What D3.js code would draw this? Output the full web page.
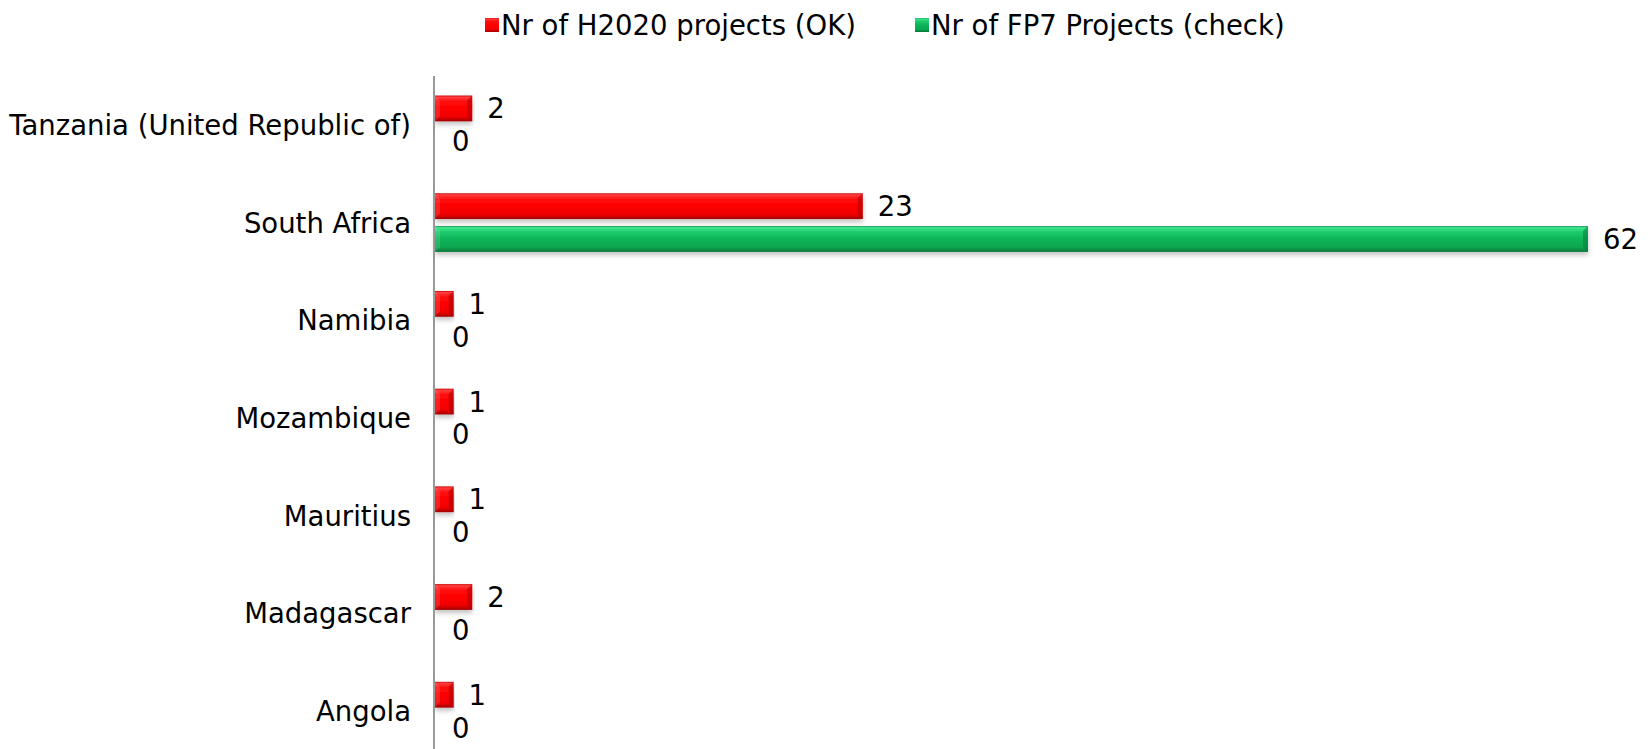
<!DOCTYPE html>
<html>
<head>
<meta charset="utf-8">
<script src="https://cdn.jsdelivr.net/npm/d3@7"></script>
<style>
  body { margin: 0; background: #fff; }
  text { font-family: "DejaVu Sans", Verdana, sans-serif; }
</style>
</head>
<body>
<div id="chart"></div>
<script>
// data
const countries = ["Tanzania (United Republic of)", "South Africa", "Namibia", "Mozambique", "Mauritius", "Madagascar", "Angola"];
const series = ["Nr of H2020 projects (OK)", "Nr of FP7 Projects (check)"];
const h2020 = [2, 23, 1, 1, 1, 2, 1];
const fp7 = [0, 62, 0, 0, 0, 0, 0];

const width = 1650, height = 749;
const margin = {top: 76, right: 62, bottom: -11, left: 435};
const fontSize = 27.5;

const data = countries.map((c, i) => ({country: c, values: [h2020[i], fp7[i]]}));

const svg = d3.select("#chart").append("svg")
    .attr("width", width)
    .attr("height", height);

const defs = svg.append("defs");

function grad(id, stops) {
    const g = defs.append("linearGradient")
        .attr("id", id)
        .attr("x1", 0).attr("y1", 0).attr("x2", 0).attr("y2", 1);
    stops.forEach(s => g.append("stop").attr("offset", s[0]).attr("stop-color", s[1]));
}
grad("g0", [[0, "#c80000"], [0.06, "#ff4040"], [0.22, "#ff1010"], [0.5, "#ff0000"], [0.82, "#f00000"], [1, "#a00000"]]);
grad("g1", [[0, "#0a8a45"], [0.06, "#40e890"], [0.22, "#20cc6e"], [0.5, "#0cb458"], [0.82, "#08a650"], [1, "#06753a"]]);

const shadow = defs.append("filter").attr("id", "shadow")
    .attr("x", "-5%").attr("y", "-20%").attr("width", "110%").attr("height", "160%");
shadow.append("feDropShadow")
    .attr("dx", 0).attr("dy", 3).attr("stdDeviation", 2.5)
    .attr("flood-color", "#000").attr("flood-opacity", 0.25);

const colors = ["url(#g0)", "url(#g1)"];
const darkEnd = ["#b00000", "#07803f"];

let x = d3.scaleLinear()
    .domain([0, d3.max(fp7.concat(h2020))])
    .range([margin.left, width - margin.right]);

let y0 = d3.scaleBand()
    .domain(countries)
    .range([margin.top, height - margin.bottom])
    .paddingInner(0.4)
    .paddingOuter(0.2);

let y1 = d3.scaleBand()
    .domain([0, 1])
    .range([0, y0.bandwidth()])
    .paddingInner(0.215);

// category labels
svg.append("g")
    .selectAll("text")
    .data(countries)
    .join("text")
    .attr("x", margin.left - 24)
    .attr("y", d => y0(d) + y0.bandwidth() / 2)
    .attr("text-anchor", "end")
    .attr("dominant-baseline", "central")
    .attr("font-size", fontSize)
    .attr("fill", "#000")
    .text(d => d);

let group = svg.selectAll(".grp")
    .data(data)
    .join("g")
    .attr("class", "grp")
    .attr("transform", d => `translate(0,${y0(d.country)})`);

let bar = group.selectAll(".bar")
    .data(d => d.values.map((v, k) => ({v, k})))
    .join("g")
    .attr("class", "bar");

bar.filter(d => d.v > 0).append("rect")
    .attr("x", x(0))
    .attr("y", d => y1(d.k))
    .attr("width", d => x(d.v) - x(0))
    .attr("height", y1.bandwidth())
    .attr("fill", d => colors[d.k])
    .attr("filter", "url(#shadow)");

// bevel at the right end
bar.filter(d => d.v > 0).append("path")
    .attr("d", d => {
        const xe = x(d.v), yt = y1(d.k), b = y1.bandwidth(), w = 5;
        return `M${xe},${yt}L${xe},${yt + b}L${xe - w},${yt + b - w}L${xe - w},${yt + w}Z`;
    })
    .attr("fill", d => darkEnd[d.k])
    .attr("opacity", 0.6);

// bevel at the left end
bar.filter(d => d.v > 0).append("path")
    .attr("d", d => {
        const xs = x(0), yt = y1(d.k), b = y1.bandwidth(), w = 5;
        return `M${xs},${yt}L${xs + w},${yt + w}L${xs + w},${yt + b - w}L${xs},${yt + b}Z`;
    })
    .attr("fill", "#fff")
    .attr("opacity", 0.12);

bar.append("text")
    .attr("x", d => x(d.v) + (d.v > 0 ? 15 : 17))
    .attr("y", d => y1(d.k) + y1.bandwidth() / 2)
    .attr("dominant-baseline", "central")
    .attr("font-size", fontSize)
    .attr("fill", "#000")
    .text(d => d.v);

// axis line
svg.append("line")
    .attr("x1", x(0) - 1).attr("x2", x(0) - 1)
    .attr("y1", margin.top).attr("y2", height)
    .attr("stroke", "#999")
    .attr("stroke-width", 2);

// legend
const legendX = [485, 915];
let legend = svg.selectAll(".leg")
    .data(series)
    .join("g")
    .attr("class", "leg")
    .attr("transform", (d, i) => `translate(${legendX[i]},25)`);

legend.append("rect")
    .attr("x", 0).attr("y", -7)
    .attr("width", 14).attr("height", 14)
    .attr("fill", (d, i) => colors[i]);

legend.append("text")
    .attr("x", 16)
    .attr("y", 0)
    .attr("dominant-baseline", "central")
    .attr("font-size", fontSize)
    .attr("fill", "#000")
    .text(d => d);
</script>
</body>
</html>
